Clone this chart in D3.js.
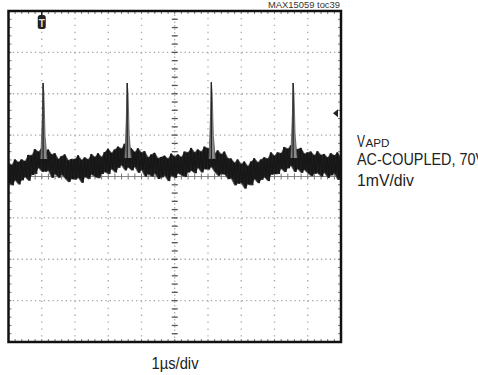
<!DOCTYPE html>
<html>
<head>
<meta charset="utf-8">
<script src="https://cdn.jsdelivr.net/npm/d3@7"></script>
<style>
  body { margin: 0; background: #fff; }
  svg { display: block; }
  text { font-family: "Liberation Sans", Arial, sans-serif; fill: #222; }
</style>
</head>
<body>
<svg></svg>
<script>
var width = 478;
var height = 375;
var svg = d3.select('svg')
            .attr('width', width)
            .attr('height', height);

// trace envelope, mV, sampled every 0.1 us (0..10 us)
var traceHi = [0.33,0.28,0.41,0.35,0.41,0.37,0.52,0.51,0.66,0.60,
               0.67,0.56,0.65,0.53,0.56,0.42,0.49,0.53,0.39,0.42,
               0.42,0.51,0.40,0.46,0.41,0.54,0.47,0.56,0.47,0.59,
               0.67,0.57,0.65,0.72,0.67,0.79,0.68,0.68,0.59,0.68,
               0.58,0.61,0.46,0.53,0.57,0.44,0.47,0.50,0.43,0.55,
               0.48,0.53,0.47,0.60,0.58,0.69,0.58,0.65,0.60,0.72,
               0.68,0.68,0.55,0.63,0.54,0.60,0.44,0.43,0.33,0.41,
               0.30,0.36,0.25,0.36,0.44,0.34,0.41,0.46,0.43,0.58,
               0.50,0.58,0.56,0.71,0.67,0.75,0.62,0.66,0.69,0.55,
               0.58,0.60,0.51,0.61,0.52,0.54,0.46,0.56,0.51,0.58,0.46];
var traceLo = [-0.16,-0.21,-0.09,-0.19,-0.09,-0.01,-0.10,0.04,0.06,0.21,
               0.12,0.12,0.14,-0.03,0.06,-0.03,0.04,-0.05,-0.13,-0.06,
               -0.07,-0.03,-0.15,-0.01,-0.06,0.05,-0.01,-0.04,0.06,0.11,
               0.06,0.18,0.10,0.21,0.27,0.15,0.22,0.15,0.23,0.09,
               0.16,0.00,0.06,0.00,0.07,-0.06,-0.02,0.02,-0.11,0.02,
               -0.03,0.08,0.03,-0.01,0.10,0.14,0.08,0.21,0.10,0.18,
               0.17,0.23,0.11,0.02,0.06,0.05,-0.06,-0.05,-0.21,-0.17,
               -0.16,-0.29,-0.19,-0.21,-0.06,-0.16,-0.08,-0.02,-0.11,0.05,
               0.06,0.06,0.19,0.11,0.20,0.26,0.11,0.18,0.09,0.16,
               0.08,0.01,0.07,0.08,0.00,0.09,-0.03,0.03,0.07,-0.08,0.02];
var sampleStep = 0.1;

// spikes
var spikeTime = [1.04, 3.57, 6.10, 8.56];
var spikeTop  = [2.26, 2.26, 2.28, 2.26];
var spikeBase = [0.42, 0.45, 0.43, 0.45];

// markers
var triggerTime = 1.0;
var triggerLevel = 1.53;

var x = d3.scaleLinear().domain([0, 10]).range([8.5, 341]);
var y = d3.scaleLinear().domain([-4, 4]).range([342, 11]);

var plot = svg.append('g');

// dotted graticule
plot.append('g').selectAll('line')
    .data(x.ticks(10).filter(d => d > 0 && d < 10 && d !== 5))
    .enter().append('line')
    .attr('x1', d => x(d)).attr('x2', d => x(d))
    .attr('y1', y(4)).attr('y2', y(-4))
    .attr('stroke', '#a5a5a5').attr('stroke-width', 1.3)
    .attr('stroke-dasharray', '1.3,5.6');

plot.append('g').selectAll('line')
    .data(y.ticks(8).filter(d => d > -4 && d < 4 && d !== 0))
    .enter().append('line')
    .attr('x1', x(0)).attr('x2', x(10))
    .attr('y1', d => y(d)).attr('y2', d => y(d))
    .attr('stroke', '#a5a5a5').attr('stroke-width', 1.3)
    .attr('stroke-dasharray', '1.3,3.1');

// centre axes with minor ticks
var minorX = d3.range(1, 50).map(i => i * 0.2);
var minorY = d3.range(1, 40).map(i => -4 + i * 0.2);

plot.append('line')
    .attr('x1', x(0)).attr('x2', x(10))
    .attr('y1', y(0)).attr('y2', y(0))
    .attr('stroke', '#8a8a8a').attr('stroke-width', 1);
plot.append('line')
    .attr('x1', x(5)).attr('x2', x(5))
    .attr('y1', y(4)).attr('y2', y(-4))
    .attr('stroke', '#9a9a9a').attr('stroke-width', 1)
    .attr('stroke-dasharray', '1.5,2');

plot.append('g').selectAll('line')
    .data(minorX).enter().append('line')
    .attr('x1', d => x(d)).attr('x2', d => x(d))
    .attr('y1', y(0) - 3).attr('y2', y(0) + 3)
    .attr('stroke', '#777').attr('stroke-width', 1);
plot.append('g').selectAll('line')
    .data(minorY).enter().append('line')
    .attr('x1', x(5) - 3).attr('x2', x(5) + 3)
    .attr('y1', d => y(d)).attr('y2', d => y(d))
    .attr('stroke', '#555').attr('stroke-width', 1.3);

// edge ticks
plot.append('g').selectAll('line')
    .data(minorX).enter().append('line')
    .attr('x1', d => x(d)).attr('x2', d => x(d))
    .attr('y1', y(4)).attr('y2', y(4) + 3)
    .attr('stroke', '#777').attr('stroke-width', 1);
plot.append('g').selectAll('line')
    .data(minorX).enter().append('line')
    .attr('x1', d => x(d)).attr('x2', d => x(d))
    .attr('y1', y(-4)).attr('y2', y(-4) - 3)
    .attr('stroke', '#777').attr('stroke-width', 1);
plot.append('g').selectAll('line')
    .data(minorY).enter().append('line')
    .attr('x1', x(0)).attr('x2', x(0) + 3)
    .attr('y1', d => y(d)).attr('y2', d => y(d))
    .attr('stroke', '#777').attr('stroke-width', 1);
plot.append('g').selectAll('line')
    .data(minorY).enter().append('line')
    .attr('x1', x(10)).attr('x2', x(10) - 3)
    .attr('y1', d => y(d)).attr('y2', d => y(d))
    .attr('stroke', '#777').attr('stroke-width', 1);

// noise band
var band = traceHi.map((h, i) => ({t: i * sampleStep, hi: h, lo: traceLo[i]}));

plot.append('path')
    .datum(band)
    .attr('d', d3.area().x(d => x(d.t)).y0(d => y(d.lo)).y1(d => y(d.hi)))
    .attr('fill', '#222')
    .attr('stroke', '#666')
    .attr('stroke-width', 0.8);

// two interleaved zigzags through the envelope give the noisy hair
var zigA = [], zigB = [];
band.forEach(function(d, i) {
  zigA.push([d.t, d.hi]);
  if (i < band.length - 1) {
    zigA.push([d.t + sampleStep / 2, d.lo]);
    zigB.push([d.t + sampleStep / 4, d.lo]);
    zigB.push([d.t + sampleStep * 3 / 4, band[i + 1].hi]);
  }
});
[zigA, zigB].forEach(function(z) {
  plot.append('path')
      .datum(z)
      .attr('d', d3.line().x(d => x(d[0])).y(d => y(d[1])))
      .attr('fill', 'none')
      .attr('stroke', '#151515')
      .attr('stroke-width', 0.8);
});

// spikes
spikeTime.forEach(function(t, i) {
  var top = spikeTop[i], base = spikeBase[i];
  var pts = [[t - 0.07, base], [t - 0.02, base + (top - base) * 0.6], [t, top],
             [t + 0.025, top - 0.25], [t + 0.06, base + (top - base) * 0.3], [t + 0.12, base]];
  plot.append('path')
      .datum(pts)
      .attr('d', d3.line().x(d => x(d[0])).y(d => y(d[1])))
      .attr('fill', '#8a8a8a')
      .attr('stroke', '#555')
      .attr('stroke-width', 0.8);
  plot.append('line')
      .attr('x1', x(t)).attr('x2', x(t))
      .attr('y1', y(base)).attr('y2', y(top))
      .attr('stroke', '#222').attr('stroke-width', 1.3);
});

// trigger position marker
var tx = x(triggerTime);
plot.append('line')
    .attr('x1', tx).attr('x2', tx).attr('y1', y(4)).attr('y2', y(4) + 6)
    .attr('stroke', '#222').attr('stroke-width', 1.5);
plot.append('rect')
    .attr('x', tx - 4).attr('y', y(4) + 4).attr('width', 8).attr('height', 14)
    .attr('rx', 2.5).attr('fill', '#222');
plot.append('text')
    .attr('x', tx).attr('y', y(4) + 15.5)
    .attr('text-anchor', 'middle')
    .style('font-size', '10px').style('font-weight', 'bold').style('fill', '#ddd')
    .text('T');

// trigger level marker
var ly = y(triggerLevel);
plot.append('path')
    .attr('d', 'M' + (x(10) - 8) + ',' + ly + 'L' + (x(10) - 3) + ',' + (ly - 4) +
               'L' + (x(10) - 3) + ',' + (ly + 4) + 'Z')
    .attr('fill', '#222');

// frame
plot.append('rect')
    .attr('x', x(0)).attr('y', y(4))
    .attr('width', x(10) - x(0)).attr('height', y(-4) - y(4))
    .attr('fill', 'none').attr('stroke', '#111').attr('stroke-width', 2.5);

// labels
svg.append('text')
    .attr('x', 340).attr('y', 7.5).attr('text-anchor', 'end')
    .attr('textLength', 72).attr('lengthAdjust', 'spacingAndGlyphs')
    .style('font-size', '9px').style('fill', '#333')
    .text('MAX15059 toc39');

var lbl = svg.append('text').attr('x', 357).attr('y', 147).style('font-size', '16px');
lbl.append('tspan').attr('textLength', 8).attr('lengthAdjust', 'spacingAndGlyphs').text('V');
lbl.append('tspan').attr('dx', 0.5).style('font-size', '11.5px')
   .attr('textLength', 24).attr('lengthAdjust', 'spacingAndGlyphs').text('APD');

svg.append('text')
    .attr('x', 357).attr('y', 165)
    .attr('textLength', 128).attr('lengthAdjust', 'spacingAndGlyphs')
    .style('font-size', '16px')
    .text('AC-COUPLED, 70V');

svg.append('text')
    .attr('x', 357).attr('y', 186)
    .attr('textLength', 57).attr('lengthAdjust', 'spacingAndGlyphs')
    .style('font-size', '16px')
    .text('1mV/div');

svg.append('text')
    .attr('x', 175).attr('y', 369).attr('text-anchor', 'middle')
    .attr('textLength', 47).attr('lengthAdjust', 'spacingAndGlyphs')
    .style('font-size', '16px')
    .text('1µs/div');
</script>
</body>
</html>
